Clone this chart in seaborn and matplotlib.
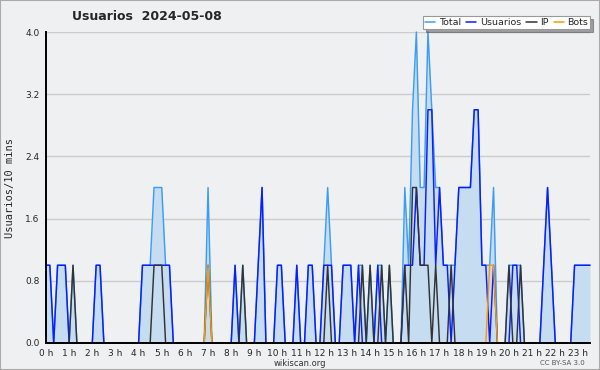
import numpy as np
import pandas as pd
import matplotlib
matplotlib.use("Agg")
import matplotlib.pyplot as plt
import seaborn as sns
from matplotlib.lines import Line2D
from matplotlib.patches import Rectangle

# Usuarios activos por intervalo de 10 minutos, 2024-05-08 (00:00 .. 23:30)
total = [
    1, 1, 0, 1, 1, 1,   # 0 h
    0, 1, 0, 0, 0, 0,   # 1 h
    0, 1, 1, 0, 0, 0,   # 2 h
    0, 0, 0, 0, 0, 0,   # 3 h
    0, 1, 1, 1, 2, 2,   # 4 h
    2, 1, 1, 0, 0, 0,   # 5 h
    0, 0, 0, 0, 0, 0,   # 6 h
    2, 0, 0, 0, 0, 0,   # 7 h
    0, 1, 0, 1, 0, 0,   # 8 h
    0, 1, 2, 0, 0, 0,   # 9 h
    1, 1, 0, 0, 0, 1,   # 10 h
    0, 0, 1, 1, 0, 0,   # 11 h
    1, 2, 1, 0, 0, 1,   # 12 h
    1, 1, 0, 1, 1, 0,   # 13 h
    1, 0, 1, 1, 0, 1,   # 14 h
    0, 0, 0, 2, 1, 3,   # 15 h
    4, 2, 2, 4, 3, 2,   # 16 h
    2, 1, 1, 1, 1, 2,   # 17 h
    2, 2, 2, 3, 3, 1,   # 18 h
    1, 1, 2, 0, 0, 0,   # 19 h
    1, 1, 1, 1, 0, 0,   # 20 h
    0, 0, 0, 1, 2, 1,   # 21 h
    0, 0, 0, 0, 0, 1,   # 22 h
    1, 1, 1, 1,         # 23 h
]
usuarios = [
    1, 1, 0, 1, 1, 1,
    0, 0, 0, 0, 0, 0,
    0, 1, 1, 0, 0, 0,
    0, 0, 0, 0, 0, 0,
    0, 1, 1, 1, 1, 1,
    1, 1, 1, 0, 0, 0,
    0, 0, 0, 0, 0, 0,
    0, 0, 0, 0, 0, 0,
    0, 1, 0, 0, 0, 0,
    0, 1, 2, 0, 0, 0,
    1, 1, 0, 0, 0, 1,
    0, 0, 1, 1, 0, 0,
    1, 1, 1, 0, 0, 1,
    1, 1, 0, 1, 0, 0,
    0, 0, 1, 0, 0, 0,
    0, 0, 0, 1, 1, 1,
    2, 1, 1, 3, 3, 1,
    2, 1, 1, 0, 1, 2,
    2, 2, 2, 3, 3, 1,
    1, 0, 1, 0, 0, 0,
    0, 1, 1, 0, 0, 0,
    0, 0, 0, 1, 2, 1,
    0, 0, 0, 0, 0, 1,
    1, 1, 1, 1,
]
ip = [
    0, 0, 0, 0, 0, 0,
    0, 1, 0, 0, 0, 0,
    0, 0, 0, 0, 0, 0,
    0, 0, 0, 0, 0, 0,
    0, 0, 0, 0, 1, 1,
    1, 0, 0, 0, 0, 0,
    0, 0, 0, 0, 0, 0,
    1, 0, 0, 0, 0, 0,
    0, 0, 0, 1, 0, 0,
    0, 0, 0, 0, 0, 0,
    0, 0, 0, 0, 0, 0,
    0, 0, 0, 0, 0, 0,
    0, 1, 0, 0, 0, 0,
    0, 0, 0, 0, 1, 0,
    1, 0, 0, 1, 0, 1,
    0, 0, 0, 1, 0, 2,
    2, 1, 1, 1, 0, 1,
    0, 0, 0, 1, 0, 0,
    0, 0, 0, 0, 0, 0,
    0, 0, 0, 0, 0, 0,
    1, 0, 0, 1, 0, 0,
    0, 0, 0, 0, 0, 0,
    0, 0, 0, 0, 0, 0,
    0, 0, 0, 0,
]
bots = [
    0, 0, 0, 0, 0, 0,
    0, 0, 0, 0, 0, 0,
    0, 0, 0, 0, 0, 0,
    0, 0, 0, 0, 0, 0,
    0, 0, 0, 0, 0, 0,
    0, 0, 0, 0, 0, 0,
    0, 0, 0, 0, 0, 0,
    1, 0, 0, 0, 0, 0,
    0, 0, 0, 0, 0, 0,
    0, 0, 0, 0, 0, 0,
    0, 0, 0, 0, 0, 0,
    0, 0, 0, 0, 0, 0,
    0, 0, 0, 0, 0, 0,
    0, 0, 0, 0, 0, 0,
    0, 0, 0, 0, 0, 0,
    0, 0, 0, 0, 0, 0,
    0, 0, 0, 0, 0, 0,
    0, 0, 0, 0, 0, 0,
    0, 0, 0, 0, 0, 0,
    0, 1, 1, 0, 0, 0,
    0, 0, 0, 0, 0, 0,
    0, 0, 0, 0, 0, 0,
    0, 0, 0, 0, 0, 0,
    0, 0, 0, 0,
]
hour_labels = [f"{h} h" for h in range(24)]
y_labels = ["0.0", "0.8", "1.6", "2.4", "3.2", "4.0"]

df = pd.DataFrame({
    "Total": total, "Usuarios": usuarios, "IP": ip, "Bots": bots,
})
df["hora"] = df.index * 10 / 60

bg = "#eff0f2"
colors = {"Total": "#3d9df5", "Usuarios": "#0b1cff", "IP": "#333333", "Bots": "#ff9900"}

sns.set_style("white")
plt.rcParams["font.family"] = ["DejaVu Sans"]

fig = plt.figure(figsize=(6, 3.7), dpi=100, facecolor=bg)
ax = fig.add_axes([46 / 600, 1 - 343 / 370, 544 / 600, 311 / 370])
ax.set_facecolor(bg)

ax.fill_between(df["hora"], df["Total"], color="#c6dcf0", lw=0, zorder=1)
for name in ["Total", "Usuarios", "IP", "Bots"]:
    sns.lineplot(data=df, x="hora", y=name, color=colors[name], lw=1.05,
                 ax=ax, zorder=3, clip_on=False)

ax.set_xlim(0, 23.5)
ax.set_ylim(0, 4)
ax.set_xticks(range(24))
ax.set_xticklabels(hour_labels)
ax.set_xticks(np.arange(0, 23.51, 1 / 6), minor=True)
ax.set_yticks([0, 0.8, 1.6, 2.4, 3.2, 4.0])
ax.set_yticklabels(y_labels)
ax.set_yticks(np.arange(0, 4.01, 0.2), minor=True)
ax.yaxis.grid(True, color="#cccccc", lw=1, zorder=0)
ax.xaxis.grid(False)
ax.set_axisbelow(True)
ax.tick_params(axis="both", which="both", direction="out", length=3.5, width=0.9,
               color="black", labelsize=6.5, pad=1)
for s in ["top", "right"]:
    ax.spines[s].set_visible(False)
for s in ["left", "bottom"]:
    ax.spines[s].set_color("black")
    ax.spines[s].set_linewidth(1.4)
    ax.spines[s].set_zorder(6)
ax.set_xlabel("")
ax.set_ylabel("")

handles = [Line2D([], [], color=colors[n], lw=1.1) for n in colors]
leg = fig.legend(handles, list(colors), loc="upper right", ncol=4,
                 bbox_to_anchor=(590 / 600, 1 - 16 / 370), fontsize=6.8,
                 frameon=True, fancybox=False, shadow=True, edgecolor="#999999",
                 handlelength=1.1, handletextpad=0.35, columnspacing=0.55,
                 borderpad=0.2, borderaxespad=0)
leg.get_frame().set_facecolor("white")
leg.get_frame().set_linewidth(0.8)

fig.text(147 / 600, 1 - 17 / 370, "Usuarios  2024-05-08", fontsize=9,
         fontweight="bold", ha="center", va="center")
fig.text(10 / 600, 1 - 188 / 370, "Usuarios/10 mins", rotation=90, fontsize=7.5,
         family="DejaVu Sans Mono", ha="center", va="center")
fig.text(300 / 600, 1 - 363.5 / 370, "wikiscan.org", fontsize=6, ha="center",
         va="center", color="#333333")
fig.text(562 / 600, 1 - 363 / 370, "CC BY-SA 3.0", fontsize=5, ha="center",
         va="center", color="#555555")
fig.patches.append(Rectangle((0, 0), 1, 1, transform=fig.transFigure, fill=False,
                             edgecolor="#aaaaaa", lw=1.5))

fig.savefig("out.png", dpi=100, facecolor=bg)
